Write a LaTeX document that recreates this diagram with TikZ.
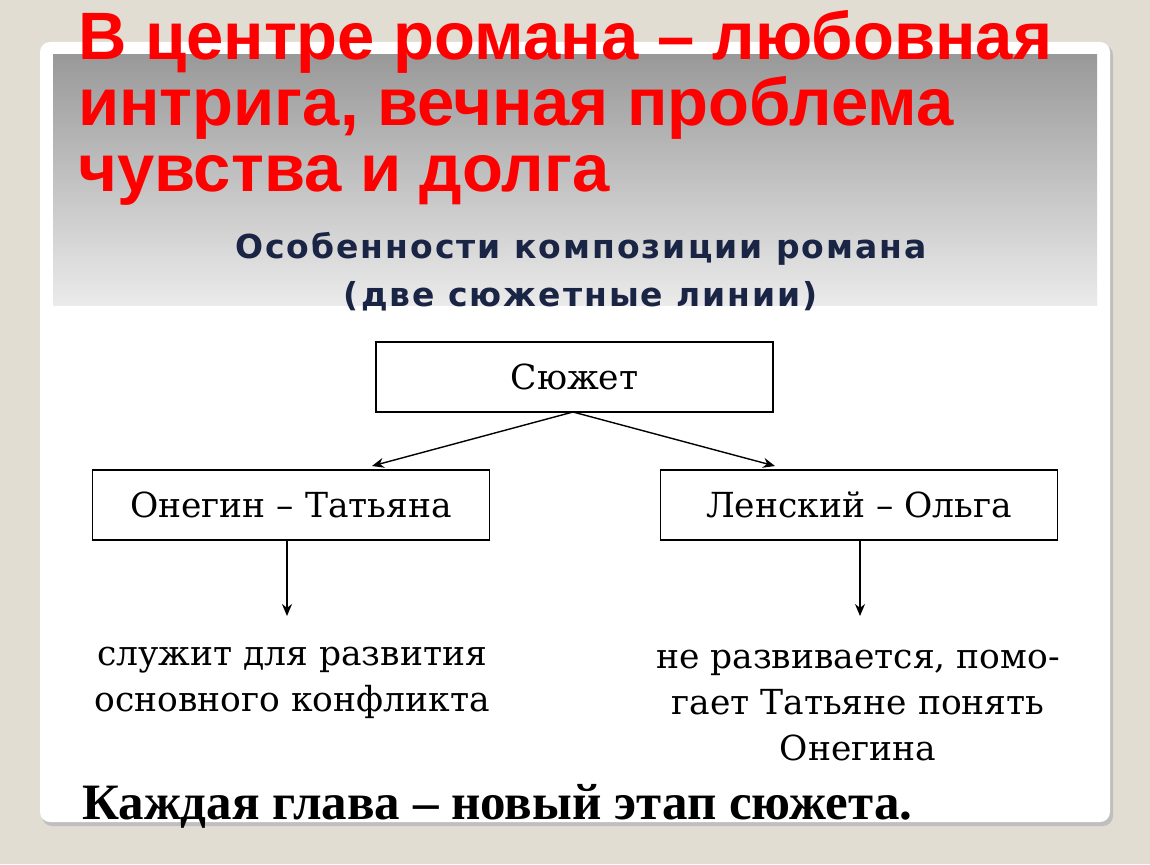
\documentclass[tikz,border=0pt]{standalone}
\usepackage{fontspec}
\setmainfont{Liberation Serif}
\setsansfont{Liberation Sans}
\newfontfamily\dsans[LetterSpace=6]{DejaVu Sans}
\newfontfamily\dserif{DejaVu Serif}
\usetikzlibrary{arrows.meta}
\definecolor{bg}{HTML}{E2DDD3}
\definecolor{ttl}{HTML}{FF0000}
\definecolor{sub}{HTML}{1A2444}
\tikzset{x=1pt,y=-1pt,
 box/.style={draw=black,line width=1.2pt,fill=white,minimum width=397pt,minimum height=70pt,inner sep=0pt,font=\dserif\fontsize{34.5}{34.5}\selectfont},
 lbl/.style={align=center,font=\dserif\fontsize{34.5}{46}\selectfont,inner sep=0pt},
 arr/.style={line width=1.4pt,-{Stealth[length=12pt,width=10pt]}}}
\begin{document}
\begin{tikzpicture}
\useasboundingbox (0,0) rectangle (1150,864);
\fill[bg] (0,0) rectangle (1150,864);
\fill[black!25,rounded corners=10pt] (42,45) rectangle (1113,826);
\fill[white,rounded corners=10pt] (40,42) rectangle (1110,822);
\shade[top color=black!40,bottom color=black!8] (53,55) rectangle (1097,305);
\node[anchor=north west,align=left,text=ttl,font=\sffamily\bfseries\fontsize{67}{66}\selectfont,inner sep=0pt] (t) at (78,10) {В центре романа – любовная\\интрига, вечная проблема\\чувства и долга};
\node[align=center,text=sub,font=\dsans\bfseries\fontsize{33}{48}\selectfont,inner sep=0pt] (s) at (581,272) {Особенности композиции романа\\(две сюжетные линии)};
\node[box] (a) at (574.5,377) {Сюжет};
\node[box] (b) at (291,505) {Онегин – Татьяна};
\node[box] (c) at (859,505) {Ленский – Ольга};
\node[lbl] (d) at (292,683) {служит для развития\\основного конфликта};
\node[lbl] (e) at (858,706) {не развивается, помо-\\гает Татьяне понять\\Онегина};
\node[anchor=west,font=\bfseries\fontsize{51}{51}\selectfont,inner sep=0pt] (f) at (82,806) {Каждая глава – новый этап сюжета.};
\coordinate (p) at (573,412);
\draw[arr] (p) -- (372,466);
\draw[arr] (p) -- (775,466);
\draw[arr] (287,540) -- (287,616);
\draw[arr] (860,540) -- (860,616);
\end{tikzpicture}
\end{document}
